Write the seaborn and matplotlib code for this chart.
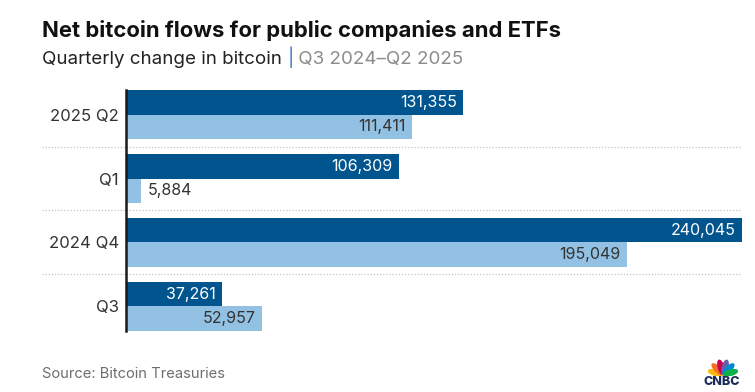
import matplotlib
matplotlib.use('Agg')
import matplotlib.pyplot as plt
import seaborn as sns
import pandas as pd
import numpy as np
from matplotlib.patches import Ellipse

# values
quarters = ['2025 Q2', 'Q1', '2024 Q4', 'Q3']
companies = [131355, 106309, 240045, 37261]
etfs = [111411, 5884, 195049, 52957]
series = ['Public companies', 'ETFs']
bar_colors = ['#00558f', '#92c1e4']
label_colors = ['white', '#333333']

df = pd.DataFrame({
    'quarter': quarters * 2,
    'btc': companies + etfs,
    'group': [series[0]] * len(quarters) + [series[1]] * len(quarters),
})

sns.set_theme(style='white')
plt.rcParams['font.family'] = ['Inter', 'DejaVu Sans']

W, H = 755, 392
fig = plt.figure(figsize=(W / 100, H / 100), dpi=100)
ax = fig.add_axes([126 / W, 1 - 331 / H, 616 / W, 241 / H])

sns.barplot(data=df, x='btc', y='quarter', hue='group', order=quarters,
            hue_order=series, palette=bar_colors, saturation=1, width=0.77,
            orient='h', legend=False, linewidth=0, ax=ax)

ax.set_xlim(0, max(companies + etfs))
ax.set_ylim(3.385, -0.385)
sns.despine(ax=ax, left=False, bottom=True)
ax.spines['left'].set_color('#1a1a1a')
ax.spines['left'].set_linewidth(1.8)
ax.set_xticks([])
ax.set_xlabel('')
ax.set_ylabel('')
ax.tick_params(axis='y', length=0, pad=5, labelsize=12, labelcolor='#333333')

# value labels: inside the bar end, or just outside when the bar is too short
for cont, tc in zip(ax.containers, label_colors):
    for bar in cont:
        w = bar.get_width()
        yc = bar.get_y() + bar.get_height() / 2
        if w > 30000:
            ax.annotate(f'{w:,.0f}', (w, yc), xytext=(-4.5, 0), textcoords='offset points',
                        ha='right', va='center', fontsize=11.5, color=tc)
        else:
            ax.annotate(f'{w:,.0f}', (w, yc), xytext=(5, 0), textcoords='offset points',
                        ha='left', va='center', fontsize=11.5, color='#333333')

# dotted separators between quarters
for yy in [0.5, 1.5, 2.5]:
    ax.plot([-0.136, 0.998], [yy, yy], transform=ax.get_yaxis_transform(),
            ls=(0, (1, 1.5)), color='#c4c4c4', lw=0.9, clip_on=False)

# title and subtitle
fig.text(42 / W, 1 - 37 / H, 'Net bitcoin flows for public companies and ETFs',
         fontsize=15.9, weight='bold', color='#111111', va='baseline')

renderer = fig.canvas.get_renderer()
x = 42 / W
for part, col in [('Quarterly change in bitcoin ', '#222222'), ('|', '#3d7fc1'),
                  (' Q3 2024\u2013Q2 2025', '#8c8c8c')]:
    t = fig.text(x, 1 - 64 / H, part, fontsize=13.5, color=col, va='baseline')
    bb = t.get_window_extent(renderer)
    x = bb.x1 / fig.bbox.width

fig.text(42 / W, 1 - 378 / H, 'Source: Bitcoin Treasuries', fontsize=10.6,
         color='#6e6e6e', va='baseline')

# CNBC logo
lax = fig.add_axes([708 / W, 1 - 376 / H, 30 / W, 19 / H])
lax.set_xlim(-1.2, 1.2)
lax.set_ylim(-0.1, 1.42)
lax.axis('off')
peacock = ['#fcb711', '#f37021', '#cc004c', '#6460aa', '#0089d0', '#0db14b']
for c, a in zip(peacock, np.linspace(165, 15, len(peacock))):
    r = np.deg2rad(a)
    lax.add_patch(Ellipse((0.62 * np.cos(r), 0.62 * np.sin(r)), 1.15, 0.42,
                          angle=a, color=c))
fig.text(722 / W, 1 - 385 / H, 'CNBC', fontsize=9, weight='heavy',
         color='#1b2a5c', ha='center', va='baseline')

fig.savefig('out.png', dpi=100)
